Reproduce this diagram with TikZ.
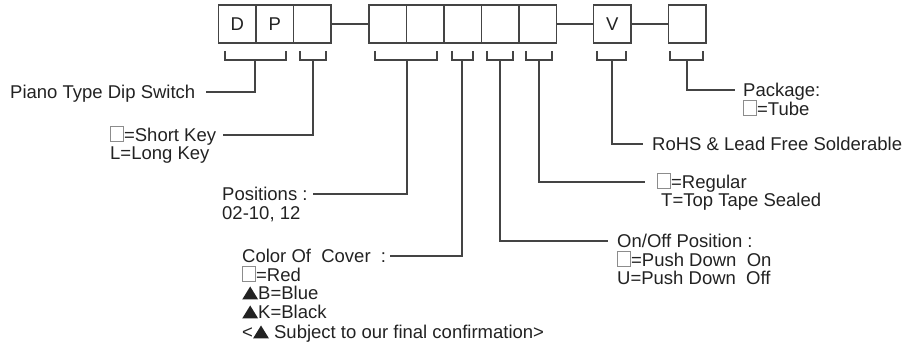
\documentclass[tikz,border=0pt]{standalone}
\usepackage{fontspec}
\setmainfont{Liberation Sans}
\definecolor{ink}{HTML}{222222}
\definecolor{ln}{HTML}{444444}
\newcommand\opsq{\tikz[baseline=-0.5pt]\draw[black!45,line width=0.9pt] (0pt,0pt) rectangle (13pt,15pt);}
\newcommand\ftri{\tikz[baseline=0pt]\fill[ink] (0pt,0pt) -- (16pt,0pt) -- (8pt,13pt) -- cycle;}
\begin{document}
\begin{tikzpicture}[x=1pt,y=-1pt,
  box/.style={draw=ln,line width=1.2pt,minimum width=37.5pt,minimum height=38pt,inner sep=0pt,
    font=\fontsize{18.5pt}{19pt}\selectfont,text=ink},
  lab/.style={inner sep=0pt,text height=13pt,text depth=0pt,
    font=\fontsize{18.5pt}{19pt}\selectfont,text=ink},
  wire/.style={draw=ln,line width=1.2pt},
  conl/.style={wire,shorten >=8pt}]
\useasboundingbox (0,0) rectangle (918,344);
% boxes
\node[box] (b1) at (237.25,24) {D};
\node[box] (b2) at (274.75,24) {P};
\node[box] (b3) at (312.25,24) {};
\node[box] (b4) at (387.75,24) {};
\node[box] (b5) at (425.25,24) {};
\node[box] (b6) at (462.75,24) {};
\node[box] (b7) at (500.25,24) {};
\node[box] (b8) at (537.75,24) {};
\node[box] (b9) at (612.25,24) {V};
\node[box] (b10) at (687.25,24) {};
\draw[wire] (b3.east) -- (b4.west);
\draw[wire] (b8.east) -- (b9.west);
\draw[wire] (b9.east) -- (b10.west);
% brackets
\draw[wire] (225,51) -- (225,60) -- (286,60) -- (286,51);
\draw[wire] (300,51) -- (300,60) -- (326,60) -- (326,51);
\draw[wire] (375,51) -- (375,60) -- (437,60) -- (437,51);
\draw[wire] (452,51) -- (452,60) -- (473,60) -- (473,51);
\draw[wire] (487,51) -- (487,60) -- (513,60) -- (513,51);
\draw[wire] (526,51) -- (526,60) -- (552,60) -- (552,51);
\draw[wire] (597,51) -- (597,60) -- (626,60) -- (626,51);
\draw[wire] (670,51) -- (670,60) -- (703,60) -- (703,51);
\coordinate (s1) at (255,60);
\coordinate (s2) at (313,60);
\coordinate (s3) at (407,60);
\coordinate (s4) at (462,60);
\coordinate (s5) at (500,60);
\coordinate (s6) at (539,60);
\coordinate (s7) at (612,60);
\coordinate (s8) at (687,60);
% labels
\node[lab,anchor=west] (lPiano) at (10,92) {Piano Type Dip Switch};
\node[lab,anchor=west] (lShort) at (110,135) {\opsq=Short Key};
\node[lab,anchor=west] (lLong) at (110,153) {L=Long Key};
\node[lab,anchor=west] (lPos) at (222,194) {Positions :};
\node[lab,anchor=west] (lPos2) at (222,213) {02-10, 12};
\node[lab,anchor=west] (lCol) at (242,256) {Color Of\ \ Cover\ \ :};
\node[lab,anchor=west] (lRed) at (242,275) {\opsq=Red};
\node[lab,anchor=west] (lBlue) at (242,293) {\ftri B=Blue};
\node[lab,anchor=west] (lBlack) at (242,312) {\ftri K=Black};
\node[lab,anchor=west] (lSubj) at (242,332) {<\ftri\ Subject to our final confirmation>};
\node[lab,anchor=west] (lOn) at (617,241) {On/Off Position :};
\node[lab,anchor=west] (lOn2) at (617,260) {\opsq=Push Down\ \ On};
\node[lab,anchor=west] (lOn3) at (617,278) {U=Push Down\ \ Off};
\node[lab,anchor=west] (lReg) at (657,182) {\opsq=Regular};
\node[lab,anchor=west] (lReg2) at (661,200) {T=Top Tape Sealed};
\node[lab,anchor=west] (lRoHS) at (652,144) {RoHS \& Lead Free Solderable};
\node[lab,anchor=west] (lPack) at (743,90) {Package:};
\node[lab,anchor=west] (lPack2) at (743,109) {\opsq=Tube};
% connectors
\draw[conl,shorten >=11pt] (s1) |- (lPiano.east);
\draw[conl,shorten >=7pt] (s2) |- (lShort.east);
\draw[conl,shorten >=5pt] (s3) |- (lPos.east);
\draw[conl,shorten >=4pt] (s4) |- (lCol.east);
\draw[conl,shorten >=9pt] (s5) |- (lOn.west);
\draw[conl,shorten >=12pt] (s6) |- (lReg.west);
\draw[conl,shorten >=9pt] (s7) |- (lRoHS.west);
\draw[conl,shorten >=8pt] (s8) |- (lPack.west);
\end{tikzpicture}
\end{document}
